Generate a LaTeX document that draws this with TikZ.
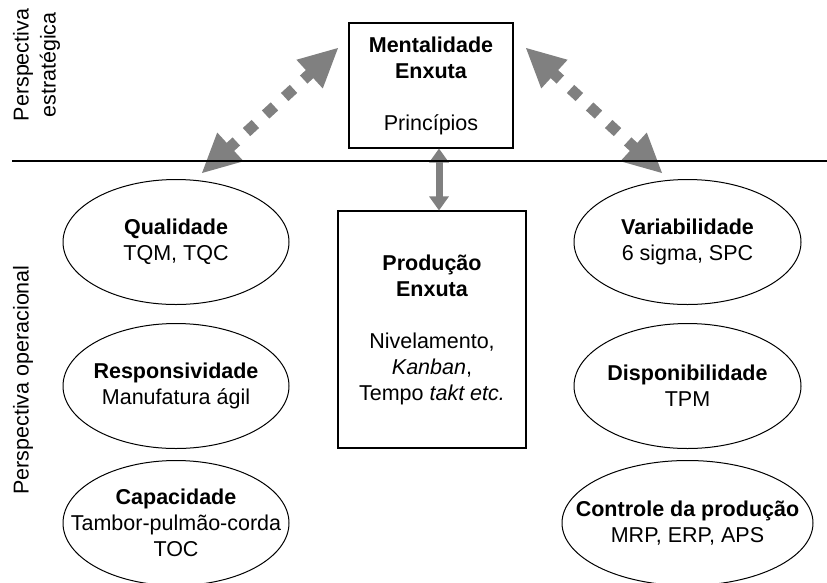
\documentclass[tikz,border=0pt]{standalone}
\usepackage{fontspec}
\setmainfont{Liberation Sans}
\usetikzlibrary{calc,shapes.geometric}
\definecolor{arrowgray}{HTML}{808080}
\newcommand{\gtip}[4]{%
  \path ($(#2)!#3!(#1)$) coordinate (tmpbase);
  \fill[arrowgray] (#2) -- ($(tmpbase)!#4!90:(#2)$) -- ($(tmpbase)!#4!-90:(#2)$) -- cycle;}
\begin{document}
\begin{tikzpicture}[x=1pt,y=-1pt,
  txt/.style={align=center, inner sep=0pt, font=\fontsize{21.5}{26}\selectfont},
  boxnode/.style={draw, line width=1.2pt, align=center, inner sep=0pt, font=\fontsize{21.5}{26}\selectfont},
  oval/.style={ellipse, draw, line width=1pt, inner sep=0pt},
  gshaft/.style={draw=arrowgray, line width=11pt},
  sidelabel/.style={rotate=90, align=center, inner sep=0pt, font=\fontsize{21.5}{27}\selectfont}]
\path[use as bounding box] (0,0) rectangle (827,582);
\clip (0,0) rectangle (827,582);

% side labels
\node[sidelabel] (pe) at (36.5,65) {Perspectiva\\estratégica};
\node[sidelabel] (po) at (23,380) {Perspectiva operacional};

% boxes
\node[boxnode, minimum width=164pt, minimum height=125pt] (ment) at (431,85.5)
  {\textbf{Mentalidade}\\\textbf{Enxuta}\\[26pt]Princípios};
\node[boxnode, minimum width=188pt, minimum height=237pt] (prod) at (432,329.5)
  {\textbf{Produção}\\\textbf{Enxuta}\\[26pt]Nivelamento,\\\textit{Kanban},\\Tempo \textit{takt etc.}};

% ellipses left
\node[oval, minimum width=226pt, minimum height=125pt] (qual) at (176,242) {};
\node[txt] at (qual) {\textbf{Qualidade}\\TQM, TQC};
\node[oval, minimum width=226pt, minimum height=125pt] (resp) at (176,386) {};
\node[txt] at (resp) {\textbf{Responsividade}\\Manufatura ágil};
\node[oval, minimum width=226pt, minimum height=125pt] (capa) at (176,523) {};
\node[txt] at (capa) {\textbf{Capacidade}\\Tambor-pulmão-corda\\TOC};

% ellipses right
\node[oval, minimum width=227pt, minimum height=125pt] (vari) at (687.5,242) {};
\node[txt] at (vari) {\textbf{Variabilidade}\\6 sigma, SPC};
\node[oval, minimum width=227pt, minimum height=125pt] (disp) at (687.5,386) {};
\node[txt] at (disp) {\textbf{Disponibilidade}\\TPM};
\node[oval, minimum width=251pt, minimum height=125pt] (ctrl) at (687.5,523) {};
\node[txt] at (ctrl) {\textbf{Controle da produção}\\MRP, ERP, APS};

% dotted arrows
\coordinate (lA) at (202,173);
\coordinate (lB) at (338,48);
\coordinate (rA) at (526,48);
\coordinate (rB) at (662,173);
\foreach \a/\b in {lA/lB, rA/rB}{
  \gtip{\a}{\b}{38.6pt}{19.5pt}
  \gtip{\b}{\a}{38.6pt}{19.5pt}
  \draw[gshaft] ($(\a)!30pt!(\b)$) -- ($(\a)!46.6pt!(\b)$);
  \draw[gshaft] ($(\b)!30pt!(\a)$) -- ($(\b)!46.6pt!(\a)$);
  \draw[gshaft, dash pattern=on 12pt off 13.9pt, dash phase=12pt]
    ($(\a)!46.6pt!(\b)$) -- ($(\b)!46.6pt!(\a)$);
}

% middle arrow
\coordinate (ma) at ($(ment.south)+(8,0)$);
\coordinate (mb) at ($(prod.north)+(7,0)$);
\gtip{mb}{ma}{14pt}{10pt}
\gtip{ma}{mb}{14pt}{10pt}
\draw[draw=arrowgray, line width=7pt] ($(ma)!12pt!(mb)$) -- ($(mb)!12pt!(ma)$);

% separator line
\coordinate (h1) at (12,161);
\coordinate (h2) at (827,161);
\draw[line width=1.5pt] (h1) -- (h2);
\end{tikzpicture}
\end{document}
